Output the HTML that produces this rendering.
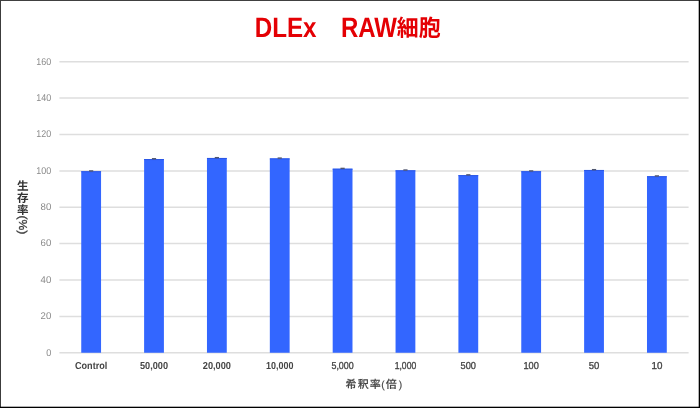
<!DOCTYPE html>
<html lang="ja"><head><meta charset="utf-8"><title>DLEx RAW細胞</title>
<style>
html,body{margin:0;padding:0;background:#fff;}
body{width:700px;height:408px;overflow:hidden;position:relative;font-family:"Liberation Sans","Noto Sans CJK JP",sans-serif;}
svg{position:absolute;left:0;top:0;display:block;}
text{font-family:"Liberation Sans","Noto Sans CJK JP",sans-serif;text-rendering:geometricPrecision;}
</style></head><body>
<svg width="700" height="408" viewBox="0 0 700 408">
<rect x="0" y="0" width="700" height="408" fill="#ffffff"/>

<line x1="59.4" x2="688.6" y1="352.75" y2="352.75" stroke="#dedede" stroke-width="1.5"/>
<text x="46.20" y="355.55" font-size="9.8" fill="#8a8a8a" textLength="5.05" lengthAdjust="spacingAndGlyphs">0</text>
<line x1="59.4" x2="688.6" y1="316.38" y2="316.38" stroke="#dedede" stroke-width="1.5"/>
<text x="40.55" y="319.18" font-size="9.8" fill="#8a8a8a" textLength="10.70" lengthAdjust="spacingAndGlyphs">20</text>
<line x1="59.4" x2="688.6" y1="280.00" y2="280.00" stroke="#dedede" stroke-width="1.5"/>
<text x="40.55" y="282.80" font-size="9.8" fill="#8a8a8a" textLength="10.70" lengthAdjust="spacingAndGlyphs">40</text>
<line x1="59.4" x2="688.6" y1="243.62" y2="243.62" stroke="#dedede" stroke-width="1.5"/>
<text x="40.55" y="246.43" font-size="9.8" fill="#8a8a8a" textLength="10.70" lengthAdjust="spacingAndGlyphs">60</text>
<line x1="59.4" x2="688.6" y1="207.25" y2="207.25" stroke="#dedede" stroke-width="1.5"/>
<text x="40.55" y="210.05" font-size="9.8" fill="#8a8a8a" textLength="10.70" lengthAdjust="spacingAndGlyphs">80</text>
<line x1="59.4" x2="688.6" y1="170.88" y2="170.88" stroke="#dedede" stroke-width="1.5"/>
<text x="36.35" y="173.68" font-size="9.8" fill="#8a8a8a" textLength="14.90" lengthAdjust="spacingAndGlyphs">100</text>
<line x1="59.4" x2="688.6" y1="134.50" y2="134.50" stroke="#dedede" stroke-width="1.5"/>
<text x="36.35" y="137.30" font-size="9.8" fill="#8a8a8a" textLength="14.90" lengthAdjust="spacingAndGlyphs">120</text>
<line x1="59.4" x2="688.6" y1="98.12" y2="98.12" stroke="#dedede" stroke-width="1.5"/>
<text x="36.35" y="100.92" font-size="9.8" fill="#8a8a8a" textLength="14.90" lengthAdjust="spacingAndGlyphs">140</text>
<line x1="59.4" x2="688.6" y1="61.75" y2="61.75" stroke="#dedede" stroke-width="1.5"/>
<text x="36.35" y="64.55" font-size="9.8" fill="#8a8a8a" textLength="14.90" lengthAdjust="spacingAndGlyphs">160</text>
<rect x="81.25" y="171.24" width="19.8" height="181.51" fill="#3366ff"/>
<rect x="81.25" y="171.24" width="19.8" height="1" fill="#2b57e6"/>
<rect x="89.05" y="170.24" width="4.2" height="1.4" fill="#50566e"/>
<text x="75.00" y="368.7" font-size="10.1" font-weight="bold" fill="#444" textLength="32.3" lengthAdjust="spacingAndGlyphs">Control</text>
<rect x="144.11" y="159.05" width="19.8" height="193.70" fill="#3366ff"/>
<rect x="144.11" y="159.05" width="19.8" height="1" fill="#2b57e6"/>
<rect x="151.91" y="158.05" width="4.2" height="1.4" fill="#50566e"/>
<text x="140.01" y="368.7" font-size="10.1" font-weight="bold" fill="#444" textLength="28" lengthAdjust="spacingAndGlyphs">50,000</text>
<rect x="206.97" y="157.96" width="19.8" height="194.79" fill="#3366ff"/>
<rect x="206.97" y="157.96" width="19.8" height="1" fill="#2b57e6"/>
<rect x="214.77" y="156.96" width="4.2" height="1.4" fill="#50566e"/>
<text x="202.77" y="368.7" font-size="10.1" font-weight="bold" fill="#444" textLength="28.2" lengthAdjust="spacingAndGlyphs">20,000</text>
<rect x="269.83" y="158.40" width="19.8" height="194.35" fill="#3366ff"/>
<rect x="269.83" y="158.40" width="19.8" height="1" fill="#2b57e6"/>
<rect x="277.63" y="157.40" width="4.2" height="1.4" fill="#50566e"/>
<text x="266.03" y="368.7" font-size="10.1" font-weight="bold" fill="#444" textLength="27.4" lengthAdjust="spacingAndGlyphs">10,000</text>
<rect x="332.69" y="168.69" width="19.8" height="184.06" fill="#3366ff"/>
<rect x="332.69" y="168.69" width="19.8" height="1" fill="#2b57e6"/>
<rect x="340.49" y="167.69" width="4.2" height="1.4" fill="#50566e"/>
<text x="331.44" y="368.7" font-size="10.1" font-weight="normal" fill="#444" stroke="#444" stroke-width="0.32" textLength="22.3" lengthAdjust="spacingAndGlyphs">5,000</text>
<rect x="395.55" y="170.33" width="19.8" height="182.42" fill="#3366ff"/>
<rect x="395.55" y="170.33" width="19.8" height="1" fill="#2b57e6"/>
<rect x="403.35" y="169.33" width="4.2" height="1.4" fill="#50566e"/>
<text x="394.70" y="368.7" font-size="10.1" font-weight="normal" fill="#444" stroke="#444" stroke-width="0.32" textLength="21.5" lengthAdjust="spacingAndGlyphs">1,000</text>
<rect x="458.41" y="175.15" width="19.8" height="177.60" fill="#3366ff"/>
<rect x="458.41" y="175.15" width="19.8" height="1" fill="#2b57e6"/>
<rect x="466.21" y="174.15" width="4.2" height="1.4" fill="#50566e"/>
<text x="460.61" y="368.7" font-size="10.1" font-weight="normal" fill="#444" stroke="#444" stroke-width="0.32" textLength="15.4" lengthAdjust="spacingAndGlyphs">500</text>
<rect x="521.27" y="171.24" width="19.8" height="181.51" fill="#3366ff"/>
<rect x="521.27" y="171.24" width="19.8" height="1" fill="#2b57e6"/>
<rect x="529.07" y="170.24" width="4.2" height="1.4" fill="#50566e"/>
<text x="523.47" y="368.7" font-size="10.1" font-weight="normal" fill="#444" stroke="#444" stroke-width="0.32" textLength="15.4" lengthAdjust="spacingAndGlyphs">100</text>
<rect x="584.13" y="169.97" width="19.8" height="182.78" fill="#3366ff"/>
<rect x="584.13" y="169.97" width="19.8" height="1" fill="#2b57e6"/>
<rect x="591.93" y="168.97" width="4.2" height="1.4" fill="#50566e"/>
<text x="588.73" y="368.7" font-size="10.1" font-weight="normal" fill="#444" stroke="#444" stroke-width="0.32" textLength="10.6" lengthAdjust="spacingAndGlyphs">50</text>
<rect x="646.99" y="176.24" width="19.8" height="176.51" fill="#3366ff"/>
<rect x="646.99" y="176.24" width="19.8" height="1" fill="#2b57e6"/>
<rect x="654.79" y="175.24" width="4.2" height="1.4" fill="#50566e"/>
<text x="651.44" y="368.7" font-size="10.1" font-weight="normal" fill="#444" stroke="#444" stroke-width="0.32" textLength="10.9" lengthAdjust="spacingAndGlyphs">10</text>
<text font-size="11" font-weight="500" fill="#444" stroke="#444" stroke-width="0.12" y="388.3"><tspan x="345.5">希</tspan><tspan x="357.7">釈</tspan><tspan x="369.7">率</tspan><tspan x="381.2" y="387.9" font-size="10.3">(</tspan><tspan x="385.7" y="388.3">倍</tspan><tspan x="398.7" y="387.9" font-size="10.3">)</tspan></text>
<text x="254.7" y="36.9" font-size="28" font-weight="bold" fill="#e40004" textLength="61.8" lengthAdjust="spacingAndGlyphs">DLEx</text>
<text x="340.9" y="36.9" font-size="28" font-weight="bold" fill="#e40004" textLength="56" lengthAdjust="spacingAndGlyphs">RAW</text>
<text x="396.8" y="36.0" font-size="23" font-weight="bold" fill="#e40004" textLength="43.8" lengthAdjust="spacingAndGlyphs">細胞</text>
<text font-size="11.6" font-weight="bold" fill="#333" x="17.1 17.1 17.1" y="190 201.8 213.6">生存率</text>
<text font-size="11.5" fill="#333" stroke="#333" stroke-width="0.3" transform="translate(19,215.6) rotate(90)" x="0" y="0" textLength="18.8" lengthAdjust="spacingAndGlyphs">(%)</text>
<rect x="0" y="0" width="700" height="1" fill="#404040"/>
<rect x="0" y="0" width="1" height="408" fill="#3c3c3c"/>
<rect x="698.7" y="0" width="1.3" height="408" fill="#000"/>
<rect x="0" y="406.7" width="700" height="1.3" fill="#000"/>
</svg>
</body></html>
